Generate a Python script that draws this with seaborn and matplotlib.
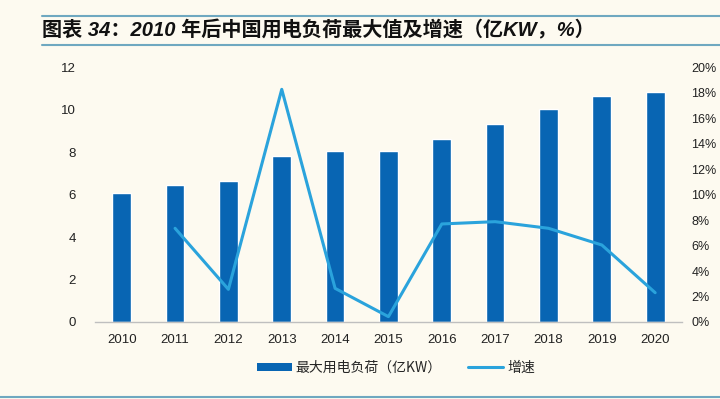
import matplotlib
matplotlib.use("Agg")
import matplotlib.pyplot as plt
import seaborn as sns
import numpy as np
import pandas as pd
from matplotlib.ticker import FixedLocator, PercentFormatter
from matplotlib.patches import Patch
from matplotlib.lines import Line2D

years = ["2010", "2011", "2012", "2013", "2014", "2015", "2016", "2017", "2018", "2019", "2020"]
max_load = [6.06, 6.45, 6.65, 7.83, 8.05, 8.05, 8.63, 9.30, 10.02, 10.62, 10.81]
growth_years = ["2011", "2012", "2013", "2014", "2015", "2016", "2017", "2018", "2019", "2020"]
growth = [7.35, 2.56, 18.25, 2.64, 0.42, 7.69, 7.87, 7.35, 6.04, 2.30]

title = "图表 34：2010 年后中国用电负荷最大值及增速（亿KW，%）"
bar_label = "最大用电负荷（亿KW）"
line_label = "增速"

bg = "#fdfaf0"
bar_color = "#0865b3"
line_color = "#2aa3dc"

sns.set_theme(style="white")
plt.rcParams['font.family'] = ['Liberation Sans', 'Noto Sans CJK SC', 'DejaVu Sans']

fig = plt.figure(figsize=(7.2, 3.99), dpi=100, facecolor=bg)
ax = fig.add_axes([0.132, 0.193, 0.815, 0.639])
ax.set_facecolor(bg)

df = pd.DataFrame({"year": years, "load": max_load})
sns.barplot(data=df, x="year", y="load", color=bar_color, width=0.35,
            saturation=1, ax=ax, order=years)
ax.set_xlim(-0.5, len(years) - 0.5)
ax.set_ylim(0, 12)
ax.set_yticks(np.arange(0, 13, 2))
ax.set_xlabel("")
ax.set_ylabel("")
for s in ["top", "right", "left"]:
    ax.spines[s].set_visible(False)
ax.spines["bottom"].set_color("#bfbfbf")
ax.spines["bottom"].set_linewidth(1.0)
ax.tick_params(axis="x", which="major", length=0, pad=9, labelsize=9.5, colors="#222222")
ax.xaxis.set_minor_locator(FixedLocator(np.arange(-0.5, len(years), 1.0)))
ax.tick_params(axis="x", which="minor", length=3, color="#bfbfbf", direction="out")
ax.tick_params(axis="y", length=0, pad=14, labelsize=9.5, colors="#222222")

ax2 = ax.twinx()
gdf = pd.DataFrame({"pos": [years.index(y) for y in growth_years], "growth": growth})
sns.lineplot(data=gdf, x="pos", y="growth", color=line_color, linewidth=2.2, ax=ax2)
ax2.set_ylim(0, 20)
ax2.set_yticks(np.arange(0, 21, 2))
ax2.yaxis.set_major_formatter(PercentFormatter(decimals=0))
ax2.set_ylabel("")
ax2.set_xlabel("")
ax2.set_xlim(-0.5, len(years) - 0.5)
for s in ["top", "right", "left", "bottom"]:
    ax2.spines[s].set_visible(False)
ax2.tick_params(axis="y", length=0, pad=7, labelsize=9, colors="#222222")

# title and rules
fig.text(0.058, 0.924, title, fontsize=14.5, fontweight="bold", style="italic",
         color="#111111", va="center", ha="left",
         family=['Liberation Sans', 'Noto Sans CJK SC'])
fig.add_artist(Line2D([0.058, 1.0], [0.96, 0.96], color="#6fa8c0", linewidth=1.5))
fig.add_artist(Line2D([0.058, 1.0], [0.887, 0.887], color="#6fa8c0", linewidth=1.5))
fig.add_artist(Line2D([0.0, 1.0], [0.005, 0.005], color="#6fa8c0", linewidth=1.5))

handles = [Patch(facecolor=bar_color, edgecolor="none", label=bar_label),
           Line2D([0], [0], color=line_color, linewidth=2.2, label=line_label)]
fig.legend(handles=handles, loc="center", bbox_to_anchor=(0.55, 0.078), ncol=2,
           frameon=False, handlelength=2.5, handleheight=0.6,
           columnspacing=1.9, handletextpad=0.3,
           prop={'family': ['Noto Sans CJK SC', 'DejaVu Sans'], 'size': 10})

fig.savefig("out.png", dpi=100, facecolor=bg)
